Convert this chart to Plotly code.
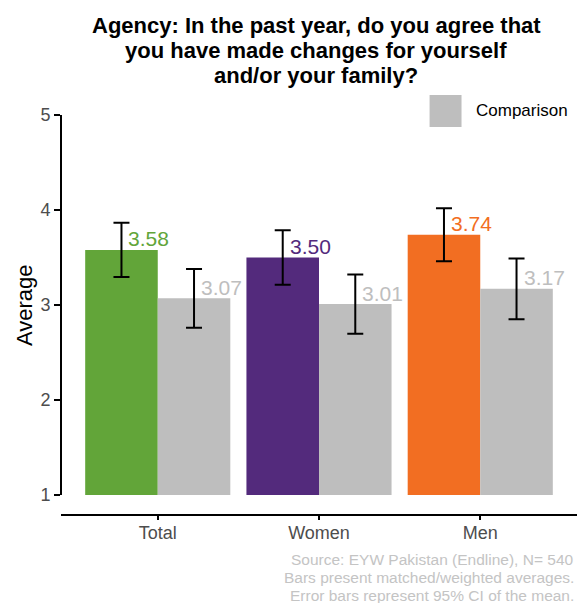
import plotly.graph_objects as go

# Survey averages by group, with 95% CI half-widths
categories = ["Total", "Women", "Men"]
program_means = [3.58, 3.50, 3.74]
program_ci = [0.286, 0.288, 0.279]
comparison_means = [3.07, 3.01, 3.17]
comparison_ci = [0.310, 0.312, 0.319]
program_colors = ["#62A539", "#532A7C", "#F26E22"]
comparison_color = "#BEBEBE"

title_lines = [
    "Agency: In the past year, do you agree that",
    "you have made changes for yourself",
    "and/or your family?",
]
caption_lines = [
    "Source: EYW Pakistan (Endline), N= 540",
    "Bars present matched/weighted averages.",
    "Error bars represent 95% CI of the mean.",
]
y_ticks = [1, 2, 3, 4, 5]
base_value = 1

FONT = "Liberation Sans, Arial, sans-serif"

fig = go.Figure()

fig.add_trace(go.Bar(
    x=categories,
    y=[v - base_value for v in program_means],
    base=base_value,
    marker=dict(color=program_colors, line=dict(width=0)),
    error_y=dict(type="data", array=program_ci, symmetric=True,
                 color="black", thickness=2, width=8),
    name="Program",
    showlegend=False,
))
fig.add_trace(go.Bar(
    x=categories,
    y=[v - base_value for v in comparison_means],
    base=base_value,
    marker=dict(color=comparison_color, line=dict(width=0)),
    error_y=dict(type="data", array=comparison_ci, symmetric=True,
                 color="black", thickness=2, width=8),
    name="Comparison",
    showlegend=False,
))

annotations = []
# value labels, placed just right of each bar centre and above its top
for i, cat in enumerate(categories):
    for val, col, off in ((program_means[i], program_colors[i], -0.225),
                          (comparison_means[i], comparison_color, 0.225)):
        annotations.append(dict(
            x=i + off, y=val, xref="x", yref="y",
            text=f"{val:.2f}", showarrow=False,
            xanchor="left", yanchor="middle", xshift=5, yshift=11,
            font=dict(family=FONT, size=21, color=col),
        ))

# title lines
for text, y in zip(title_lines, [1.168, 1.108, 1.048]):
    annotations.append(dict(
        x=0.5, y=y, xref="paper", yref="paper", text=f"<b>{text}</b>",
        showarrow=False, xanchor="center", yanchor="middle", xshift=-3,
        font=dict(family=FONT, size=22, color="black"),
    ))

# caption lines
for text, y in zip(caption_lines, [-0.110, -0.152, -0.194]):
    annotations.append(dict(
        x=1.0, y=y, xref="paper", yref="paper", text=text,
        showarrow=False, xanchor="right", yanchor="middle", xshift=-1,
        font=dict(family=FONT, size=15.5, color="#C4C4C4"),
    ))

# y-axis title
annotations.append(dict(
    x=0, y=0.5, xref="paper", yref="paper", text="Average",
    textangle=-90, showarrow=False, xanchor="center", yanchor="middle",
    xshift=-37, font=dict(family=FONT, size=22, color="black"),
))

# legend label
annotations.append(dict(
    x=0.7995, y=0.9665, xref="paper", yref="paper", text="Comparison",
    showarrow=False, xanchor="left", yanchor="middle",
    font=dict(family=FONT, size=17, color="black"),
))

shapes = [
    # y-axis line spanning the scale limits only
    dict(type="line", xref="paper", yref="y", x0=0, x1=0, y0=1, y1=5,
         line=dict(color="black", width=2)),
    # legend key
    dict(type="rect", xref="paper", yref="paper",
         x0=0.7143, x1=0.7762, y0=0.926, y1=1.0024,
         fillcolor=comparison_color, line=dict(width=0)),
]

fig.update_layout(
    width=577, height=603,
    margin=dict(l=61, r=0, t=96, b=89),
    paper_bgcolor="white", plot_bgcolor="white",
    barmode="group", bargap=0.1, bargroupgap=0,
    font=dict(family=FONT),
    annotations=annotations,
    shapes=shapes,
    showlegend=False,
)
fig.update_xaxes(
    range=[-0.6, 2.6], showgrid=False, zeroline=False,
    showline=True, linecolor="black", linewidth=2,
    ticks="outside", ticklen=4, tickwidth=2, tickcolor="black",
    ticklabelstandoff=-3,
    tickfont=dict(family=FONT, size=18, color="#4D4D4D"),
)
fig.update_yaxes(
    range=[0.8, 5.2], showgrid=False, zeroline=False, showline=False,
    tickvals=y_ticks, ticks="outside", ticklen=6, tickwidth=1.5,
    tickcolor="black",
    tickfont=dict(family=FONT, size=18, color="#4D4D4D"),
)

fig.write_html("out.html")
